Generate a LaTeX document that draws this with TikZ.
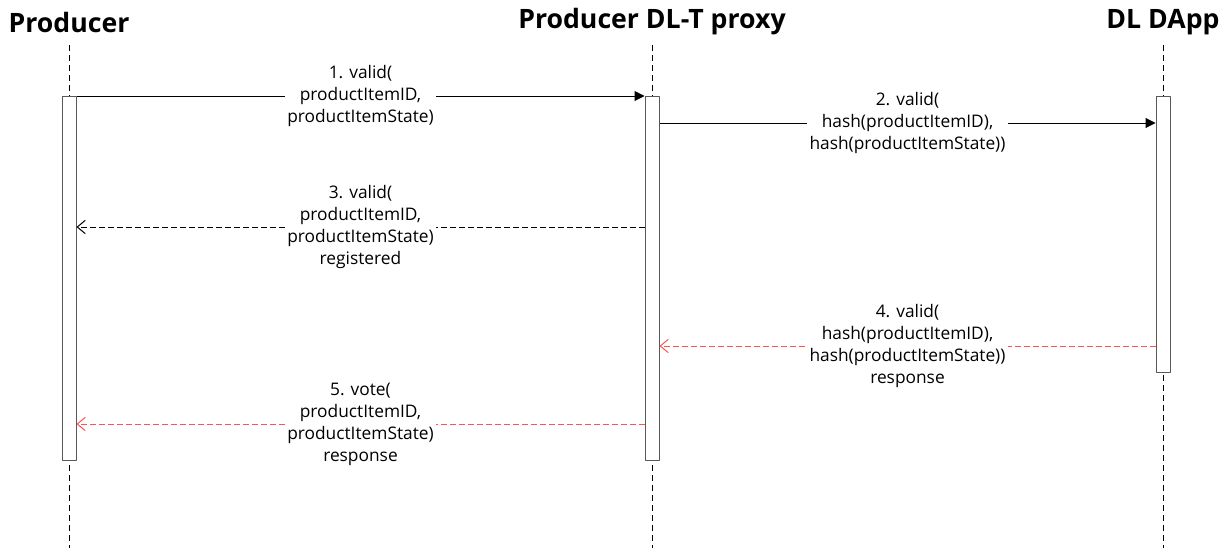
\documentclass[tikz,border=0pt]{standalone}
\usepackage{fontspec}
\setmainfont{Open Sans}
\usetikzlibrary{arrows.meta,calc,positioning}
\definecolor{respred}{HTML}{FF5252}

\begin{document}
\begin{tikzpicture}[x=0.75pt,y=-0.75pt,line join=round,
  actor/.style={font=\bfseries\fontsize{20}{22}\selectfont,inner sep=0pt},
  life/.style={line width=0.6pt,dash pattern=on 4.5pt off 3pt},
  act/.style={draw=black!65,fill=white,line width=0.75pt,minimum width=10.5pt,anchor=north,inner sep=0pt},
  msg/.style={font=\fontsize{13}{16.5}\selectfont,fill=white,align=center,inner sep=2pt},
  call/.style={line width=0.75pt,-{Triangle[length=7.5pt,width=7.5pt]}},
  back/.style={line width=0.75pt,dash pattern=on 4.5pt off 2.25pt,-{Straight Barb[length=6pt,width=10pt]}},
  resp/.style={back,draw=respred}]
\useasboundingbox (0,0) rectangle (1230,553);
% lifelines
\foreach \n/\x/\t in {prod/69/Producer,prox/652/Producer DL-T proxy,dapp/1163/DL DApp}{
  \node[actor] (\n) at (\x,22) {\t};
  \draw[life] (\x,45) -- (\x,548);}
% activations
\node[act,minimum height=273pt] (aprod) at (69,96) {};
\node[act,minimum height=273pt] (aprox) at (652,96) {};
\node[act,minimum height=207pt] (adapp) at (1163,96) {};
\coordinate (y2) at (0,123);
\coordinate (y3) at (0,227);
\coordinate (y4) at (0,346);
\coordinate (y5) at (0,424);
% messages
\draw[call] (aprod.north east) -- node[msg] (m1) {1. valid(\\productItemID,\\productItemState)} (aprox.north west);
\draw[call] (aprox.east |- y2) -- node[msg] (m2) {2. valid(\\hash(productItemID),\\hash(productItemState))} (adapp.west |- y2);
\draw[back] (aprox.west |- y3) -- node[msg] (m3) {3. valid(\\productItemID,\\productItemState)\\registered} (aprod.east |- y3);
\draw[resp] (adapp.west |- y4) -- node[msg] (m4) {4. valid(\\hash(productItemID),\\hash(productItemState))\\response} (aprox.east |- y4);
\draw[resp] (aprox.west |- y5) -- node[msg] (m5) {5. vote(\\productItemID,\\productItemState)\\response} (aprod.east |- y5);
\end{tikzpicture}
\end{document}
